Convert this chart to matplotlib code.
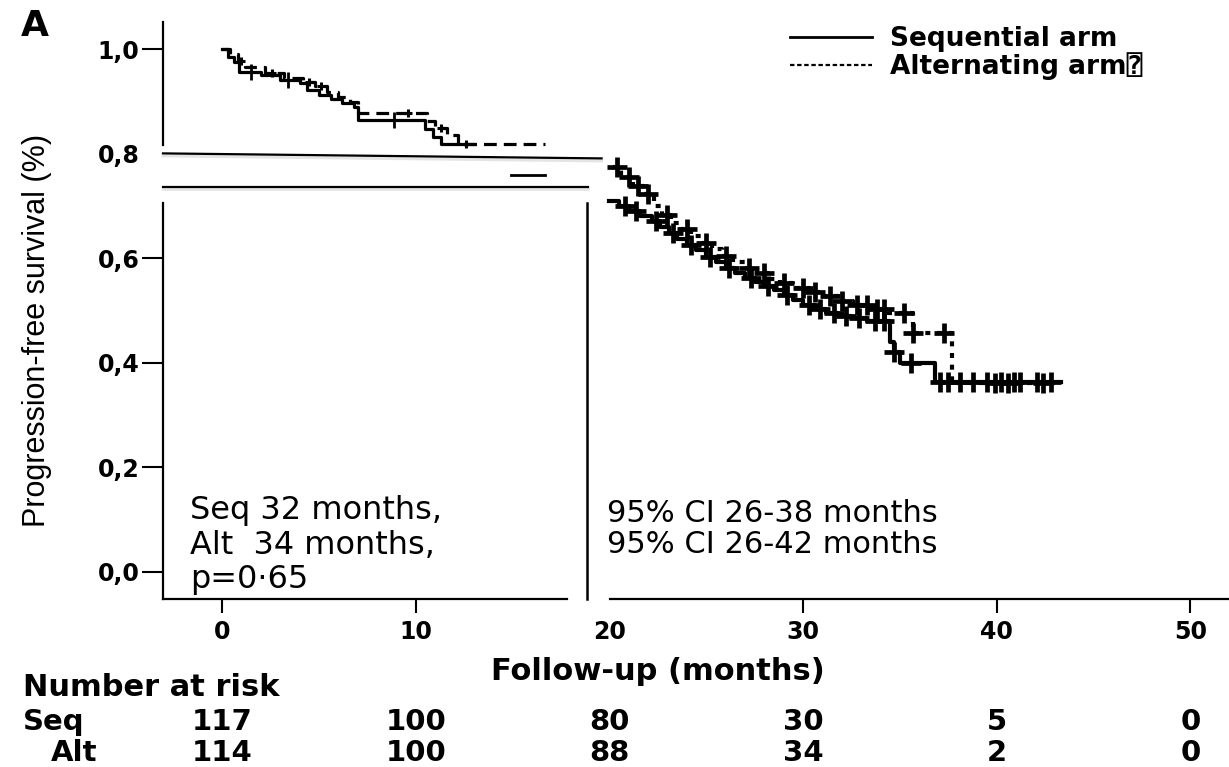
import matplotlib.pyplot as plt
import matplotlib.transforms as mtransforms
from matplotlib.lines import Line2D
import numpy as np

# Kaplan-Meier steps (time in months, survival)
seq_left_t = [0.0, 0.3, 0.6, 0.9, 2.0, 3.0, 4.0, 4.4, 5.0, 5.6, 6.2, 6.8, 7.0, 10.5, 10.9, 11.3, 13.0]
seq_left_s = [1.000, 0.985, 0.975, 0.957, 0.950, 0.941, 0.935, 0.922, 0.912, 0.905, 0.897, 0.890,
              0.864, 0.848, 0.832, 0.818, 0.818]
alt_left_t = [0.0, 0.4, 0.8, 1.2, 2.2, 3.2, 4.2, 4.8, 5.4, 6.0, 6.6, 7.0, 10.6, 11.0, 11.6, 12.2, 16.7]
alt_left_s = [1.000, 0.990, 0.978, 0.965, 0.955, 0.945, 0.938, 0.930, 0.918, 0.908, 0.898, 0.877,
              0.862, 0.850, 0.835, 0.818, 0.818]
seq_left_cens = [1.5, 3.4, 8.9]
alt_left_cens = [1.0, 2.6, 4.5, 5.1, 9.6, 11.3, 12.6]
seq_frag_t = [14.9, 16.7]
seq_frag_s = [0.759, 0.759]

seq_right_t = [20.0, 20.5, 21.0, 21.6, 22.2, 22.6, 23.1, 23.5, 24.0, 24.5, 25.0, 25.5, 26.0, 26.5,
               27.0, 27.5, 28.0, 28.5, 29.0, 29.5, 30.0, 30.6, 31.2, 31.8, 32.5, 33.3, 34.5, 34.7,
               35.0, 36.8, 43.3]
seq_right_s = [0.710, 0.700, 0.690, 0.680, 0.672, 0.660, 0.648, 0.636, 0.625, 0.615, 0.603, 0.592,
               0.582, 0.572, 0.563, 0.555, 0.547, 0.539, 0.530, 0.520, 0.511, 0.503, 0.496, 0.490,
               0.485, 0.480, 0.440, 0.420, 0.400, 0.363, 0.363]
alt_right_t = [20.2, 20.6, 21.2, 21.8, 22.3, 22.7, 23.2, 23.7, 24.2, 24.8, 25.3, 25.8, 26.4, 27.0,
               27.6, 28.2, 28.8, 29.5, 30.3, 31.0, 31.8, 32.6, 33.4, 34.4, 35.7, 37.7, 43.0]
alt_right_s = [0.775, 0.755, 0.738, 0.722, 0.700, 0.683, 0.668, 0.655, 0.643, 0.630, 0.617, 0.605,
               0.593, 0.582, 0.571, 0.561, 0.552, 0.543, 0.535, 0.527, 0.519, 0.511, 0.503, 0.495,
               0.457, 0.362, 0.362]
seq_right_cens = [20.8, 21.4, 22.4, 23.3, 24.2, 25.2, 26.2, 27.3, 28.2, 29.2, 30.3, 30.9, 31.6, 32.2,
                  32.9, 33.7, 34.2, 34.7, 35.6, 37.1, 37.5, 38.1, 38.8, 39.5, 40.2, 40.9, 41.2,
                  42.1, 42.8]
alt_right_cens = [20.4, 21.0, 21.5, 22.0, 23.0, 24.0, 25.0, 26.0, 27.2, 28.0, 29.0, 30.0, 30.6,
                  31.4, 32.0, 32.8, 33.3, 33.8, 34.2, 35.2, 35.7, 37.3, 39.9, 40.6, 42.4]

x_ticks = [0, 10, 20, 30, 40, 50]
y_ticks = [0.0, 0.2, 0.4, 0.6, 0.8, 1.0]
y_ticklabels = ['0,0', '0,2', '0,4', '0,6', '0,8', '1,0']

risk_times = [0, 10, 20, 30, 40, 50]
risk_seq = [117, 100, 80, 30, 5, 0]
risk_alt = [114, 100, 88, 34, 2, 0]


def at(t, s, c):
    # survival value of the step curve at the censor times
    idx = np.searchsorted(t, c, side='right') - 1
    return np.array(s)[idx]


fig = plt.figure(figsize=(12.29, 7.67), dpi=100)
ax = fig.add_axes([163 / 1229, 1 - 599 / 767, 1 - 163 / 1229, 577 / 767])
ax.set_xlim(-3.05, 52.0)
ax.set_ylim(-0.052, 1.052)
for sp in ax.spines.values():
    sp.set_visible(False)

# left part of the curves (before the break)
ax.step(seq_left_t, seq_left_s, where='post', color='black', lw=2.3)
ax.step(alt_left_t, alt_left_s, where='post', color='black', lw=2.3, dashes=(4, 2.2))
ax.plot(seq_left_cens, at(seq_left_t, seq_left_s, seq_left_cens), '+', color='black', ms=12, mew=2)
ax.plot(alt_left_cens, at(alt_left_t, alt_left_s, alt_left_cens), '+', color='black', ms=6, mew=2.2)
ax.plot(seq_frag_t, seq_frag_s, color='black', lw=2)

# right part of the curves
ax.step(seq_right_t, seq_right_s, where='post', color='black', lw=3)
ax.step(alt_right_t, alt_right_s, where='post', color='black', lw=3, dashes=(1.2, 1.6))
ax.plot(seq_right_cens, at(seq_right_t, seq_right_s, seq_right_cens), '+', color='black',
        ms=15, mew=3.4)
ax.plot(alt_right_cens, at(alt_right_t, alt_right_s, alt_right_cens), '+', color='black',
        ms=15, mew=3.4)

# axis lines with the break
ytr = ax.get_yaxis_transform()
xtr = ax.get_xaxis_transform()
ax.plot([0, 0], [0.816, 1.052], transform=ytr, color='black', lw=1.6, clip_on=False)
ax.plot([0, 0], [-0.052, 0.705], transform=ytr, color='black', lw=1.6, clip_on=False)
ax.plot([-3.05, 17.8], [0, 0], transform=xtr, color='black', lw=1.6, clip_on=False)
ax.plot([20.05, 52.0], [0, 0], transform=xtr, color='black', lw=1.6, clip_on=False)
ax.plot([18.85, 18.85], [-0.052, 0.705], color='black', lw=1.8, clip_on=False)
ax.plot([-3.05, 19.6], [0.7956, 0.7860], color='#e4e4e4', lw=2, clip_on=False)
ax.plot([-3.05, 18.9], [0.7320, 0.7320], color='#e4e4e4', lw=2, clip_on=False)
ax.plot([-3.05, 19.6], [0.8006, 0.7910], color='black', lw=1.6, clip_on=False)
ax.plot([-3.05, 18.9], [0.7370, 0.7370], color='black', lw=1.6, clip_on=False)

ax.set_xticks(x_ticks)
ax.set_xticklabels([str(v) for v in x_ticks])
ax.set_yticks(y_ticks)
ax.set_yticklabels(y_ticklabels)
ax.tick_params(axis='x', direction='out', length=10, width=1.5, pad=5, labelsize=17)
ax.tick_params(axis='y', direction='out', length=15, width=1.5, pad=2, labelsize=17)
for lbl in ax.get_xticklabels() + ax.get_yticklabels():
    lbl.set_fontweight('bold')
ax.xaxis.get_major_ticks()[2].tick1line.set_visible(False)
ax.yaxis.get_major_ticks()[4].tick1line.set_visible(False)

# annotations
ax.text(-1.65, 0.101, 'Seq 32 months,', fontsize=23, va='baseline')
ax.text(-1.65, 0.034, 'Alt  34 months,', fontsize=23, va='baseline')
ax.text(-1.65, -0.031, 'p=0\u00b765', fontsize=23, va='baseline')
ax.text(19.9, 0.095, '95% CI 26-38 months', fontsize=22, va='baseline')
ax.text(19.9, 0.036, '95% CI 26-42 months', fontsize=22, va='baseline')

# legend
h_seq = Line2D([], [], color='black', lw=2)
h_alt = Line2D([], [], color='black', lw=1.6, dashes=(2, 1.2))
ax.legend([h_seq, h_alt], ['Sequential arm', 'Alternating arm\u2370'],
          loc='upper left', bbox_to_anchor=(790 / 1229, 1 - 26 / 767),
          bbox_transform=fig.transFigure, frameon=False, borderpad=0, borderaxespad=0,
          handlelength=3.1, handletextpad=0.7, labelspacing=0.0,
          prop={'family': ['DejaVu Sans', 'DejaVu Sans Mono'], 'weight': 'bold', 'size': 19})

# labels
fig.text(37 / 1229, 1 - 330 / 767, 'Progression-free survival (%)', rotation=90,
         ha='center', va='center', fontsize=22, family='Liberation Sans')
fig.text(658 / 1229, 1 - 672 / 767, 'Follow-up (months)', ha='center', va='center',
         fontsize=22, fontweight='bold')
fig.text(35 / 1229, 1 - 26 / 767, 'A', ha='center', va='center', fontsize=26, fontweight='bold')

# number at risk table
rtr = mtransforms.blended_transform_factory(ax.transData, fig.transFigure)
fig.text(23 / 1229, 1 - 687 / 767, 'Number at risk', ha='left', va='center',
         fontsize=22, fontweight='bold')
fig.text(23 / 1229, 1 - 722 / 767, 'Seq', ha='left', va='center', fontsize=21, fontweight='bold')
fig.text(51 / 1229, 1 - 753 / 767, 'Alt', ha='left', va='center', fontsize=21, fontweight='bold')
for t, a, b in zip(risk_times, risk_seq, risk_alt):
    ax.text(t, 1 - 722 / 767, str(a), transform=rtr, ha='center', va='center',
            fontsize=21, fontweight='bold')
    ax.text(t, 1 - 753 / 767, str(b), transform=rtr, ha='center', va='center',
            fontsize=21, fontweight='bold')

fig.savefig('out.png', dpi=100)
